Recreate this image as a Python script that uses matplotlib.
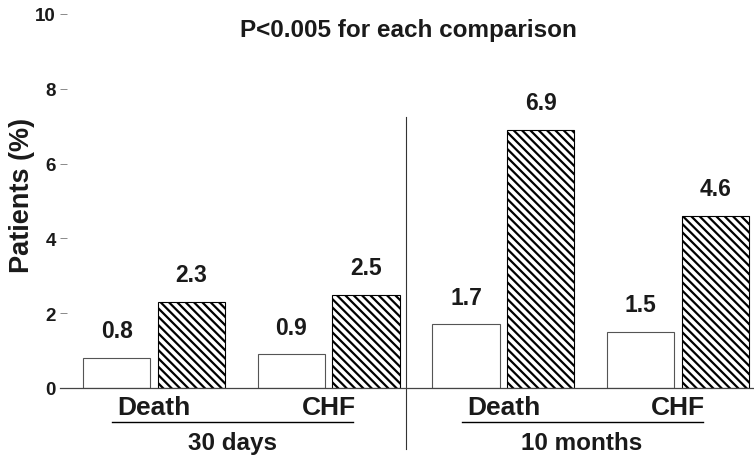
import matplotlib
matplotlib.use("Agg")
import matplotlib.pyplot as plt
import numpy as np

plt.rcParams['font.family'] = ['Liberation Sans', 'DejaVu Sans']
plt.rcParams['font.weight'] = 'bold'
plt.rcParams['hatch.linewidth'] = 1.6

categories = ["Death", "CHF", "Death", "CHF"]
periods = ["30 days", "10 months"]
control_vals = [0.8, 0.9, 1.7, 1.5]
treated_vals = [2.3, 2.5, 6.9, 4.6]
yticks = [0, 2, 4, 6, 8, 10]
title = "P<0.005 for each comparison"
ylabel = "Patients (%)"

W, H = 754, 460
fig = plt.figure(figsize=(W / 100, H / 100), dpi=100)
ax = fig.add_axes([60 / W, (H - 389) / H, (754 - 60) / W, 374 / H])

x = np.arange(len(categories))
off = 0.214
bw = 0.385
ax.bar(x - off, control_vals, bw, color='white', edgecolor='#555555', linewidth=0.8)
ax.bar(x + off, treated_vals, bw, color='white', edgecolor='black', linewidth=0.8,
       hatch='\\\\\\\\')

for xi, v in zip(x, control_vals):
    ax.text(xi - off, v + 0.42, f"{v:.1f}", ha='center', va='bottom', fontsize=16.5, fontweight='bold', color='#1a1a1a')
for xi, v in zip(x, treated_vals):
    ax.text(xi + off, v + 0.42, f"{v:.1f}", ha='center', va='bottom', fontsize=16.5, fontweight='bold', color='#1a1a1a')

ax.set_xlim(-0.538, 3.434)
ax.set_ylim(0, 10)
ax.set_yticks(yticks)
ax.set_yticklabels([str(t) for t in yticks], fontsize=13.5, fontweight='bold', color='#1a1a1a')
ax.tick_params(axis='y', direction='in', length=5, width=0.6, color='#777777', pad=3)
ax.set_xticks([])
for s in ['left', 'top', 'right']:
    ax.spines[s].set_visible(False)
ax.spines['bottom'].set_color('#444444')
ax.spines['bottom'].set_linewidth(0.9)

# category labels
for xi, c in zip(x, categories):
    ax.text(xi, -0.5, c, ha='center', va='center', fontsize=19, fontweight='bold', color='#1a1a1a')

# period labels with underlines
for gi, p in enumerate(periods):
    x0 = gi * 2
    ax.plot([x0 - 0.24, x0 + 1.14], [-0.9, -0.9], color='black', lw=1.0, clip_on=False)
    ax.text(x0 + 0.45, -1.45, p, ha='center', va='center', fontsize=17.5, fontweight='bold', color='#1a1a1a')

# divider
ax.plot([1.44, 1.44], [-1.63, 7.25], color='#333333', lw=0.8, clip_on=False)

fig.text(22 / W, 1 - 195 / H, ylabel, rotation=90, ha='center', va='center', fontsize=19.5, fontweight='bold', color='#1a1a1a')

fig.text(408 / W, 1 - 30 / H, title, ha='center', va='center', fontsize=17.5, fontweight='bold', color='#1a1a1a')

fig.savefig("out.png", dpi=100)
